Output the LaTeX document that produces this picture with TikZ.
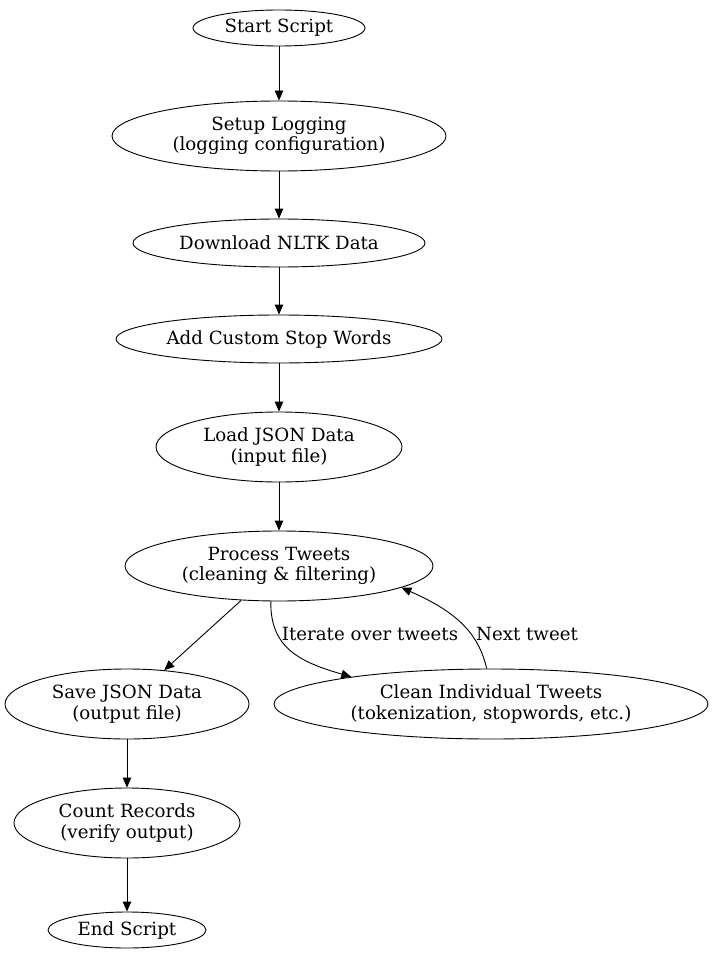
\documentclass[tikz,border=0pt]{standalone}
\usepackage{fontspec}
\setmainfont{DejaVu Serif}
\usetikzlibrary{shapes.geometric,arrows.meta}
\begin{document}
\begin{tikzpicture}[x=1pt,y=-1pt,
  gvnode/.style={draw, ellipse, inner sep=0pt, align=center, line width=0.9pt,
    font=\fontsize{18.2}{20.5}\selectfont},
  arr/.style={-{Triangle[length=10pt,width=8.5pt]}, line width=0.9pt},
  elabel/.style={font=\fontsize{18.2}{20.5}\selectfont, inner sep=0pt}]
\useasboundingbox (0,0) rectangle (712,960);
\node[gvnode, minimum width=172pt, minimum height=36pt] (start) at (279,28) {Start Script};
\node[gvnode, minimum width=334pt, minimum height=70pt] (setup) at (279,136) {Setup Logging\\(logging configuration)};
\node[gvnode, minimum width=292pt, minimum height=48pt] (nltk) at (279,243) {Download NLTK Data};
\node[gvnode, minimum width=326pt, minimum height=48pt] (stop) at (279,339) {Add Custom Stop Words};
\node[gvnode, minimum width=246pt, minimum height=70pt] (load) at (279,447) {Load JSON Data\\(input file)};
\node[gvnode, minimum width=308pt, minimum height=70pt] (proc) at (279,566) {Process Tweets\\(cleaning \& filtering)};
\node[gvnode, minimum width=244pt, minimum height=70pt] (save) at (127,704) {Save JSON Data\\(output file)};
\node[gvnode, minimum width=434pt, minimum height=70pt] (clean) at (491,704) {Clean Individual Tweets\\(tokenization, stopwords, etc.)};
\node[gvnode, minimum width=226pt, minimum height=70pt] (count) at (127,823) {Count Records\\(verify output)};
\node[gvnode, minimum width=158pt, minimum height=36pt] (end) at (127,930) {End Script};

\draw[arr] (start) -- (setup);
\draw[arr] (setup) -- (nltk);
\draw[arr] (nltk) -- (stop);
\draw[arr] (stop) -- (load);
\draw[arr] (load) -- (proc);
\draw[arr] (proc) -- (save);
\draw[arr] (save) -- (count);
\draw[arr] (count) -- (end);
\draw[arr] (proc.-103) .. controls (270,648) and (300,662) .. (clean.169.6);
\draw[arr] (clean.97.9) .. controls (478,630) and (452,610) .. (proc.-10.8);
\node[elabel] (lit) at (370,634) {Iterate over tweets};
\node[elabel] (lnt) at (527,634) {Next tweet};
\end{tikzpicture}
\end{document}
